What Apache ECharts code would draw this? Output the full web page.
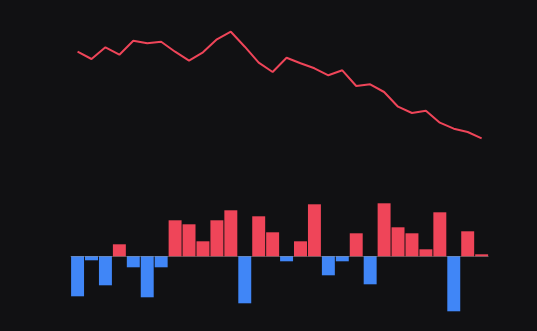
<!DOCTYPE html>
<html>
<head>
<meta charset="utf-8">
<script src="https://cdn.jsdelivr.net/npm/echarts@6/dist/echarts.min.js"></script>
<style>
html,body{margin:0;padding:0;background:#111113;}
#chart{width:537px;height:331px;}
</style>
</head>
<body>
<div id="chart"></div>
<script>
var categories = ['1','2','3','4','5','6','7','8','9','10','11','12','13','14','15','16','17','18','19','20','21','22','23','24','25','26','27','28','29','30'];
var lineValues = [108.3, 101, 112.7, 105.3, 119.3, 116.7, 118.3, 108.3, 99.3, 107.7, 120.7, 128.3, 113.3, 97.3, 88, 102.3, 96.7, 91.7, 84.7, 89.7, 74, 75.7, 68, 53.3, 47, 49.3, 37.3, 31.3, 28, 21.7];
var barValues = [-40, -4, -29, 12, -11, -41, -11, 36, 32, 15, 36, 46, -47, 40, 24, -5, 15, 52, -19, -5, 23, -28, 53, 29, 23, 7, 44, -55, 25, 2];

var RED = '#ef4559';
var BLUE = '#4086f7';

var chart = echarts.init(document.getElementById('chart'));
chart.setOption({
  backgroundColor: '#111113',
  animation: false,
  grid: [
    {left: 70.6, width: 418, top: 20, height: 140},
    {left: 70.6, width: 418, top: 196.3, height: 120}
  ],
  xAxis: [
    {type: 'category', gridIndex: 0, data: categories, boundaryGap: true,
     axisLine: {show: false}, axisTick: {show: false}, axisLabel: {show: false}, splitLine: {show: false}},
    {type: 'category', gridIndex: 1, data: categories, boundaryGap: true,
     axisLine: {show: false}, axisTick: {show: false}, axisLabel: {show: false}, splitLine: {show: false}}
  ],
  yAxis: [
    {type: 'value', gridIndex: 0, min: 0, max: 140, show: false, splitLine: {show: false}},
    {type: 'value', gridIndex: 1, min: -60, max: 60, show: false, splitLine: {show: false}}
  ],
  series: [
    {type: 'line', xAxisIndex: 0, yAxisIndex: 0, data: lineValues, symbol: 'none',
     lineStyle: {color: RED, width: 2}},
    {type: 'bar', xAxisIndex: 1, yAxisIndex: 1, barWidth: '93%',
     data: barValues.map(function (v) {
       return {value: v, itemStyle: {color: v >= 0 ? RED : BLUE}};
     }),
     markLine: {
       silent: true, symbol: 'none', label: {show: false},
       lineStyle: {color: 'rgba(255,255,255,0.25)', width: 1, type: 'solid'},
       data: [{yAxis: 0}]
     }}
  ]
});
</script>
</body>
</html>
